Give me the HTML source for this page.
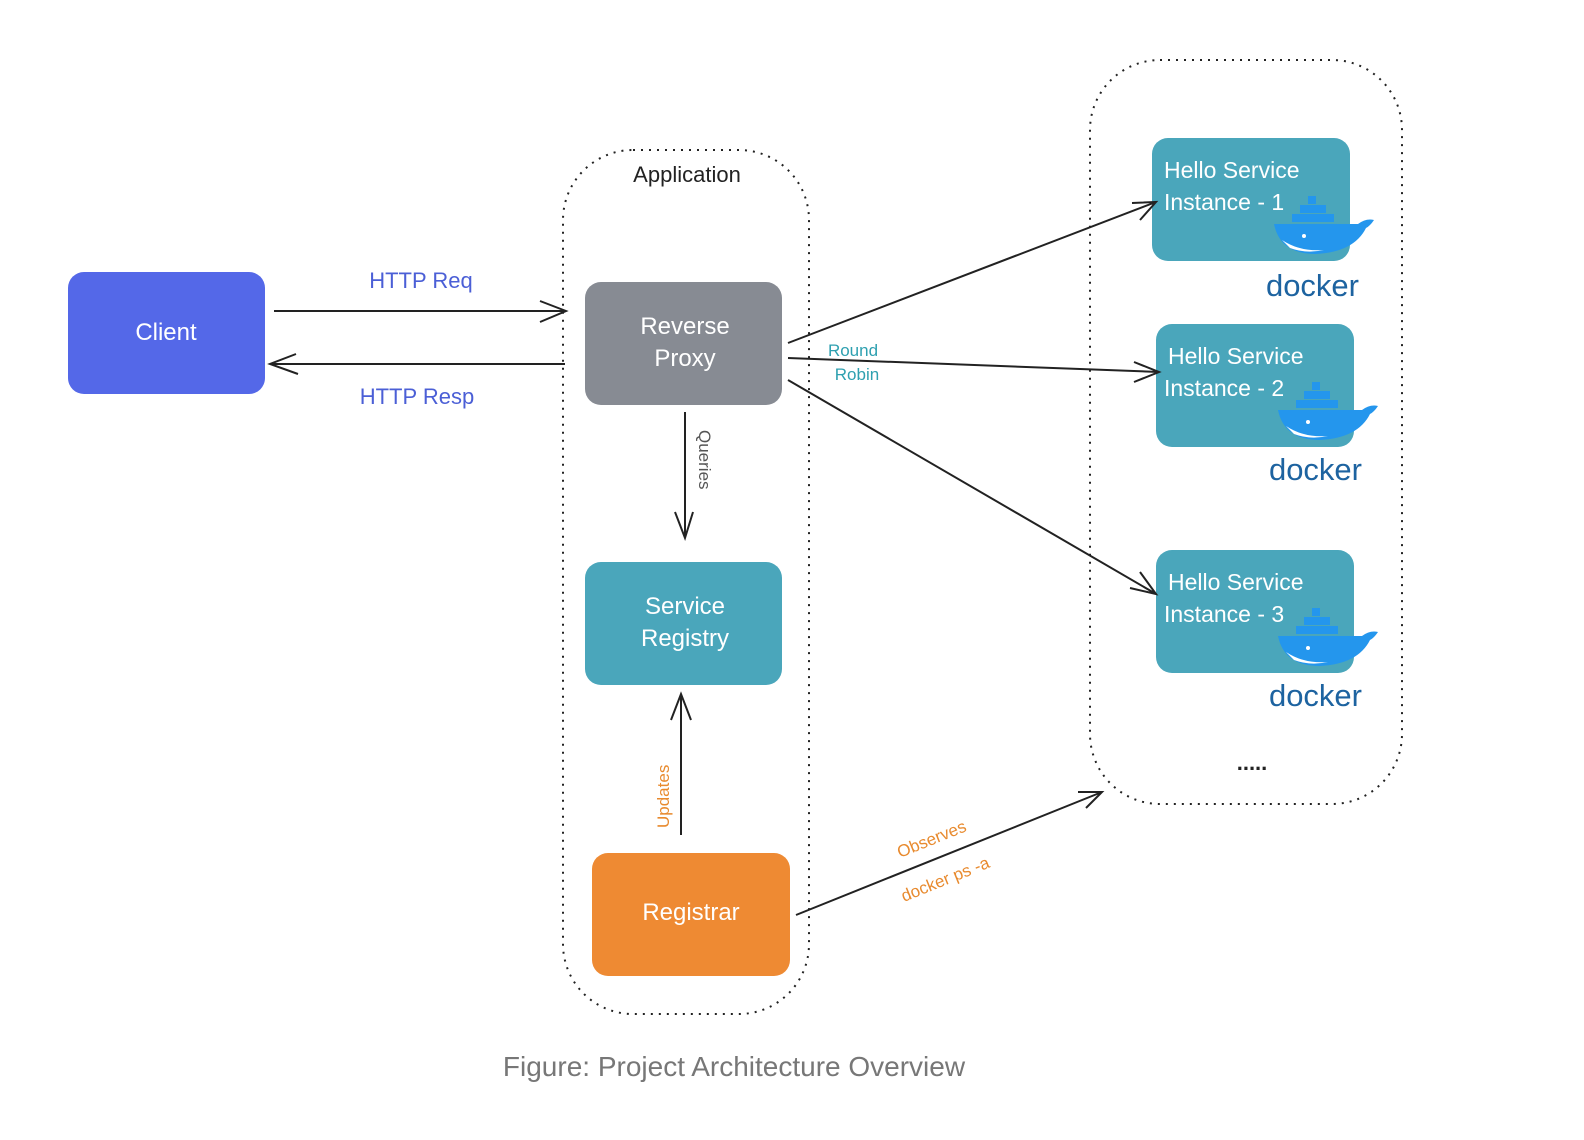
<!DOCTYPE html>
<html><head><meta charset="utf-8"><style>
html,body{margin:0;padding:0;background:#fff;}
svg{display:block;}
.h{font-family:"Comic Sans MS","Liberation Sans",sans-serif;}
</style></head><body>
<svg width="1584" height="1140" viewBox="0 0 1584 1140" xmlns="http://www.w3.org/2000/svg">
<defs>
<g id="whale">
<rect x="8" y="0" width="8" height="8" fill="#2496ed"/>
<rect x="0" y="9" width="26" height="8" fill="#2496ed"/>
<rect x="-8" y="18" width="42" height="8" fill="#2496ed"/>
<path d="M-26 28 H58 Q66 22 74 24 Q70 30 66 32 Q54 56 16 58 Q-20 58 -26 28 Z" fill="#2496ed"/>
<path d="M-18 44 Q0 56 24 54 Q6 58 -10 52 Z" fill="#fff"/>
<circle cx="4" cy="40" r="2" fill="#fff"/>
</g>
</defs>
<rect x="563" y="150" width="246" height="864" rx="70" fill="none" stroke="#222" stroke-width="2" stroke-dasharray="2 6"/>
<rect x="1090" y="60" width="312" height="744" rx="70" fill="none" stroke="#222" stroke-width="2" stroke-dasharray="2 6"/>
<text x="687" y="182" class="h" font-size="22" fill="#222" text-anchor="middle">Application</text>

<rect x="68" y="272" width="197" height="122" rx="16" fill="#5468e8"/>
<text x="166" y="340" class="h" font-size="24" fill="#fff" text-anchor="middle">Client</text>
<rect x="585" y="282" width="197" height="123" rx="16" fill="#878b93"/>
<text x="685" y="334" class="h" font-size="24" fill="#fff" text-anchor="middle">Reverse</text>
<text x="685" y="366" class="h" font-size="24" fill="#fff" text-anchor="middle">Proxy</text>
<rect x="585" y="562" width="197" height="123" rx="16" fill="#4aa6bb"/>
<text x="685" y="614" class="h" font-size="24" fill="#fff" text-anchor="middle">Service</text>
<text x="685" y="646" class="h" font-size="24" fill="#fff" text-anchor="middle">Registry</text>
<rect x="592" y="853" width="198" height="123" rx="16" fill="#ee8a33"/>
<text x="691" y="920" class="h" font-size="24" fill="#fff" text-anchor="middle">Registrar</text>

<g>
<rect x="1152" y="138" width="198" height="123" rx="16" fill="#4aa6bb"/>
<text x="1164" y="178" class="h" font-size="23" fill="#fff">Hello Service</text>
<text x="1164" y="210" class="h" font-size="23" fill="#fff">Instance - 1</text>
<use href="#whale" x="1300" y="196"/>
<text x="1359" y="296" font-family="Liberation Sans,sans-serif" font-size="31" fill="#1d63a0" text-anchor="end">docker</text>
</g>
<g>
<rect x="1156" y="324" width="198" height="123" rx="16" fill="#4aa6bb"/>
<text x="1168" y="364" class="h" font-size="23" fill="#fff">Hello Service</text>
<text x="1164" y="396" class="h" font-size="23" fill="#fff">Instance - 2</text>
<use href="#whale" x="1304" y="382"/>
<text x="1362" y="480" font-family="Liberation Sans,sans-serif" font-size="31" fill="#1d63a0" text-anchor="end">docker</text>
</g>
<g>
<rect x="1156" y="550" width="198" height="123" rx="16" fill="#4aa6bb"/>
<text x="1168" y="590" class="h" font-size="23" fill="#fff">Hello Service</text>
<text x="1164" y="622" class="h" font-size="23" fill="#fff">Instance - 3</text>
<use href="#whale" x="1304" y="608"/>
<text x="1362" y="706" font-family="Liberation Sans,sans-serif" font-size="31" fill="#1d63a0" text-anchor="end">docker</text>
</g>
<text x="1252" y="770" font-family="Liberation Sans,sans-serif" font-size="22" font-weight="bold" fill="#222" text-anchor="middle">.....</text>

<g stroke="#222" stroke-width="2" fill="none">
<path d="M274 311 H566 M540 301 L566 311 L540 322"/>
<path d="M565 364 H270 M296 354 L270 364 L298 374"/>
<path d="M685 412 V538 M675 512 L685 538 L693 512"/>
<path d="M681 835 V694 M671 720 L681 694 L691 720"/>
<path d="M788 343 L1156 202 M1132 203 L1156 202 L1140 220"/>
<path d="M788 358 L1159 372 M1134 362 L1159 372 L1134 382"/>
<path d="M788 380 L1156 594 M1140 572 L1156 594 L1130 588"/>
<path d="M796 915 L1102 792 M1078 792 L1102 792 L1086 808"/>
</g>

<text x="421" y="288" class="h" font-size="22" fill="#4b5fd6" text-anchor="middle">HTTP Req</text>
<text x="417" y="404" class="h" font-size="22" fill="#4b5fd6" text-anchor="middle">HTTP Resp</text>
<text x="853" y="356" class="h" font-size="17" fill="#2ea0b0" text-anchor="middle">Round</text>
<text x="857" y="380" class="h" font-size="17" fill="#2ea0b0" text-anchor="middle">Robin</text>
<text class="h" font-size="17" fill="#555" transform="translate(699 430) rotate(90)">Queries</text>
<text class="h" font-size="17" fill="#e88a2e" transform="translate(669 828) rotate(-90)">Updates</text>
<text class="h" font-size="17" fill="#e88a2e" transform="translate(900 858) rotate(-22)">Observes</text>
<text class="h" font-size="17" fill="#e88a2e" transform="translate(904 902) rotate(-22)">docker ps -a</text>

<text x="734" y="1076" font-family="Liberation Sans,sans-serif" font-size="28" fill="#777" text-anchor="middle">Figure: Project Architecture Overview</text>
</svg>
</body></html>
